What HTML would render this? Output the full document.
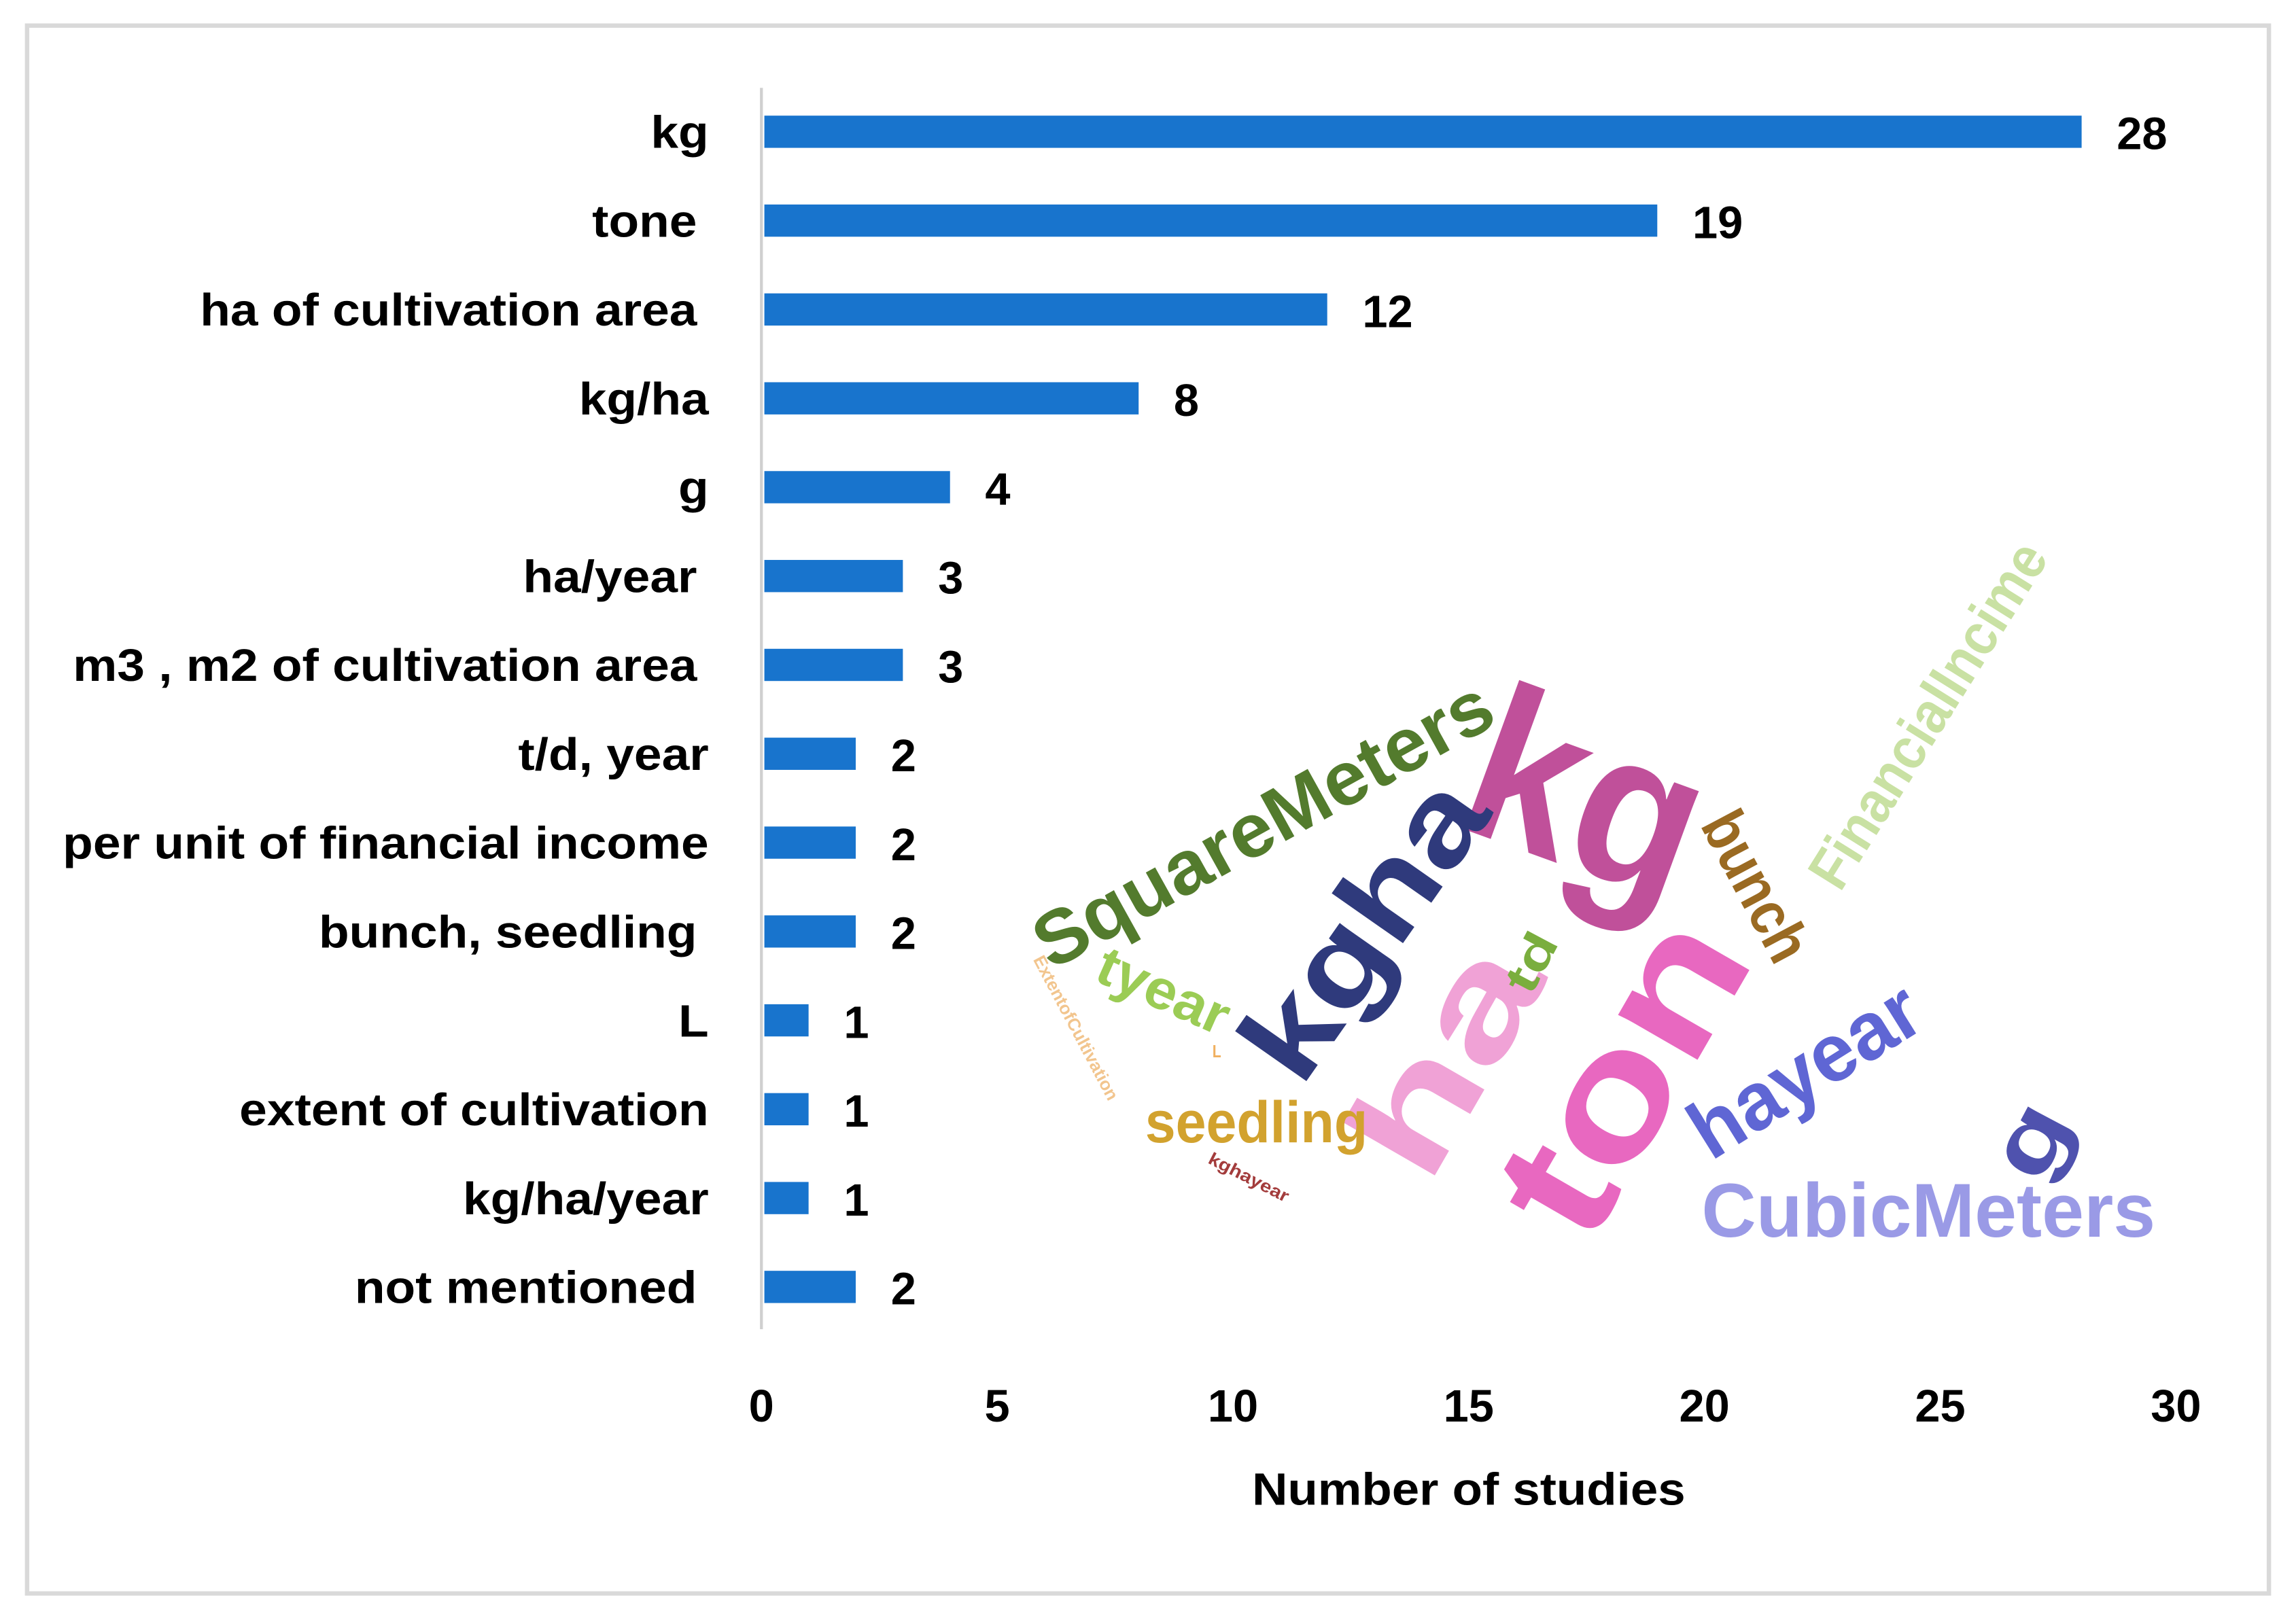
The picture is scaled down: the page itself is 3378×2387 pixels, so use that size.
<!DOCTYPE html>
<html><head><meta charset="utf-8"><style>
html,body{margin:0;padding:0;background:#fff}
svg{display:block}
text{font-family:"Liberation Sans",sans-serif;font-weight:bold}
.wc{font-family:"Liberation Sans Narrow","Liberation Sans",sans-serif;font-weight:bold}
</style></head><body>
<svg id="chart" width="3378" height="2387" viewBox="0 0 1568 1108" xmlns="http://www.w3.org/2000/svg">
<rect x="18.5" y="17.5" width="1531" height="1071" fill="#fff" stroke="#d9d9d9" stroke-width="3"/>
<g id="cloud"></g>
<g id="bars"></g>
<line x1="520" y1="60" x2="520" y2="908" stroke="#d0d0d0" stroke-width="2"/>
<g id="ticks"></g>
<text x="1003" y="1028" text-anchor="middle" font-size="31" textLength="296" lengthAdjust="spacingAndGlyphs" fill="#000">Number of studies</text>
</svg>
<script>
const categories = ["kg","tone ","ha of cultivation area ","kg/ha","g","ha/year ","m3 , m2 of cultivation area ","t/d, year","per unit of financial income","bunch, seedling ","L","extent of cultivation","kg/ha/year","not mentioned "];
const values = [28,19,12,8,4,3,3,2,2,2,1,1,1,2];
const xTicks = [0,5,10,15,20,25,30];
const words = ["SquareMeters","kg","kgha","ha","ton","bunch","FinancialIncime","td","tyear","ExtentofCultivation","L","seedling","kghayear","hayear","g","CubicMeters"];

const NS = "http://www.w3.org/2000/svg";
const x0 = 520, x30 = 1486;
function xs(v){ return x0 + (x30 - x0) * v / 30; }
function ys(i){ return 90 + i * 60.7; }

const bars = document.getElementById('bars');
categories.forEach((c,i)=>{
  const y = ys(i);
  const r = document.createElementNS(NS,'rect');
  r.setAttribute('x', xs(0)+2); r.setAttribute('y', y-11);
  r.setAttribute('width', xs(values[i])-xs(0)-2); r.setAttribute('height', 22);
  r.setAttribute('fill', '#1874cd');
  
  
  bars.appendChild(r);
  const t = document.createElementNS(NS,'text');
  t.setAttribute('x', c.endsWith(' ') ? 476 : 484); t.setAttribute('y', y+11);
  t.setAttribute('text-anchor','end'); t.setAttribute('font-size','31');
  t.textContent = c.trim();
  
  
  bars.appendChild(t);
  const L = t.getComputedTextLength();
  t.setAttribute('textLength', L*1.095);
  t.setAttribute('lengthAdjust','spacingAndGlyphs');
  const v = document.createElementNS(NS,'text');
  v.setAttribute('x', xs(values[i])+24); v.setAttribute('y', y+12);
  v.setAttribute('font-size','31');
  v.textContent = values[i];
  
  
  bars.appendChild(v);
});
const ticks = document.getElementById('ticks');
xTicks.forEach(tv=>{
  const t = document.createElementNS(NS,'text');
  t.setAttribute('x', xs(tv)); t.setAttribute('y', 971);
  t.setAttribute('text-anchor','middle'); t.setAttribute('font-size','31');
  t.textContent = tv;
  
  
  ticks.appendChild(t);
});
// word cloud layout (cx, cy, rotation, font-size, length, color)
const layout = [
  [862,562,-29,52,350,'#537b2d'],
  [1085,540,20,150,160,'#c0509a'],
  [930,633,-55,82,230,'#2f3a7c'],
  [985,722,-60,100,165,'#f0a2d6'],
  [1105,733,-60,118,230,'#e868c0'],
  [1200,605,62,42,110,'#9a6a22'],
  [1316,488,-58,40,270,'#c9e1a3'],
  [1045,657,-62,32,42,'#7aae3e'],
  [795,676,24,38,95,'#9bcc55'],
  [735,702,62,12,110,'#f2c58e'],
  [831,718,0,12,6,'#f0b060'],
  [858,766,0,40,152,'#d2a22e'],
  [853,804,27,12,60,'#a33c3c'],
  [1232,730,-32,56,175,'#5f66d4'],
  [1385,778,-62,62,50,'#4f52ae'],
  [1317,826,0,52,310,'#9a9ae6']
];
const cloud = document.getElementById('cloud');
words.forEach((w,i)=>{
  const [cx,cy,rot,fs,len,col] = layout[i];
  const t = document.createElementNS(NS,'text');
  t.setAttribute('class','wc');
  t.setAttribute('x',0); t.setAttribute('y',fs*0.36);
  t.setAttribute('text-anchor','middle');
  t.setAttribute('font-size',fs);
  t.setAttribute('fill',col);
  t.setAttribute('textLength',len);
  t.setAttribute('lengthAdjust','spacingAndGlyphs');
  t.setAttribute('transform',`translate(${cx},${cy}) rotate(${rot})`);
  t.textContent = w;
  
  
  cloud.appendChild(t);
});
</script>
</body></html>
